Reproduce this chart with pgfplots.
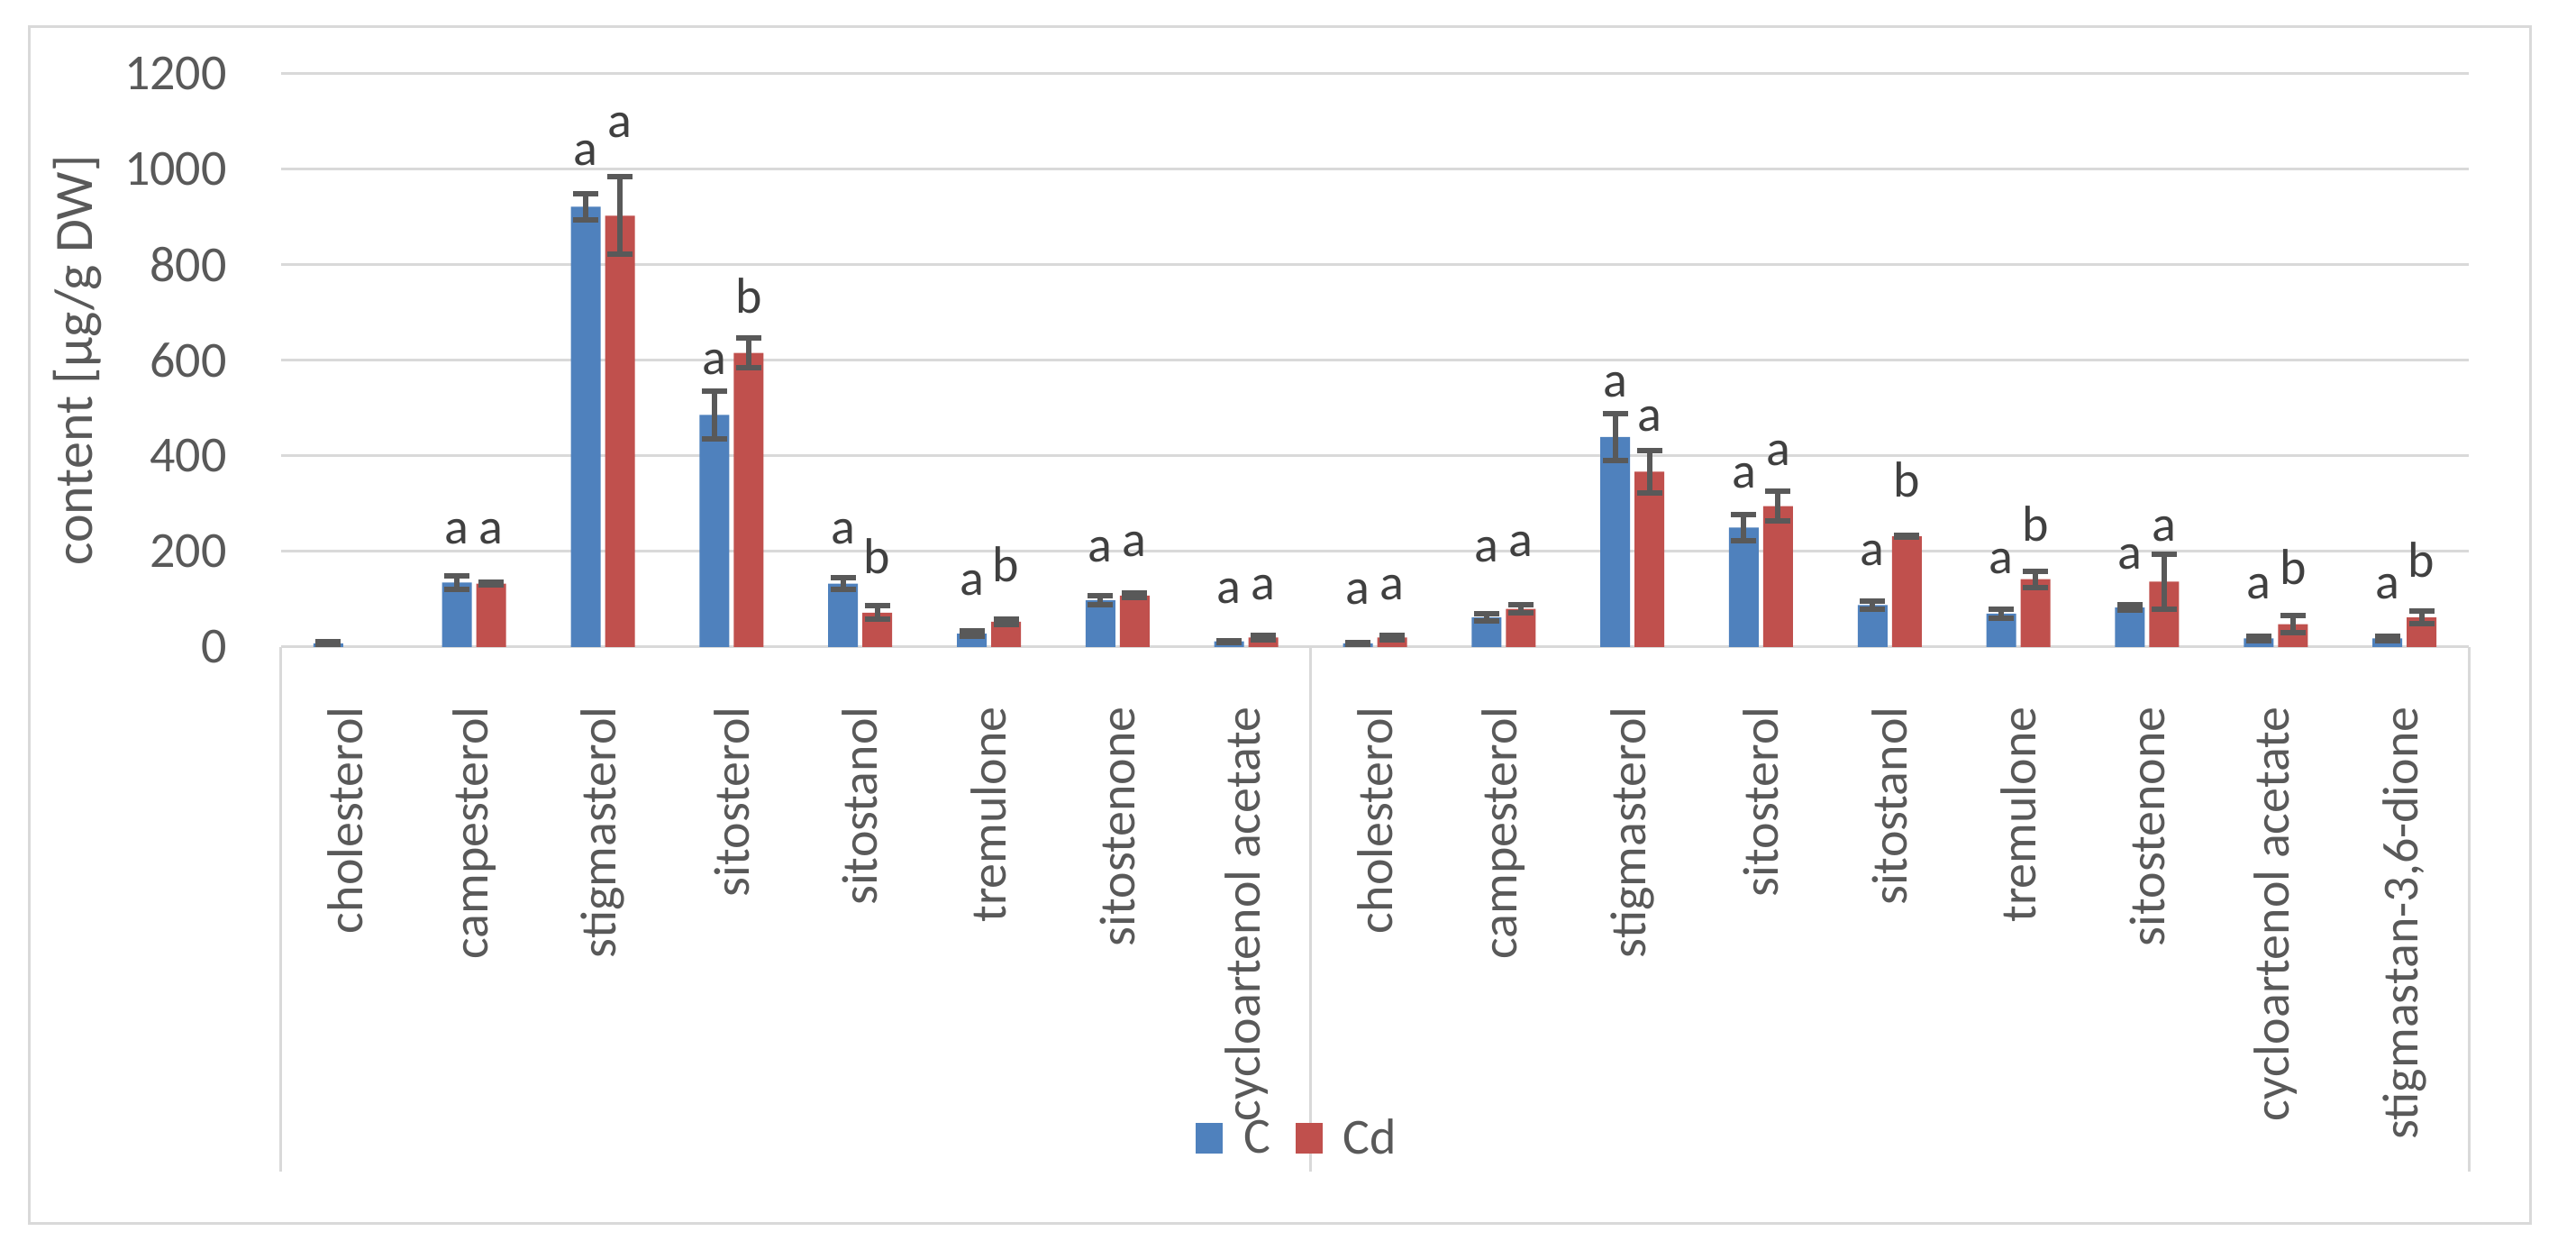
\documentclass[border=0pt]{standalone}
\usepackage{pgfplots}
\usepackage{pgfplotstable}
\pgfplotsset{compat=1.18}
\usepackage{fontspec}
\setmainfont{Carlito}
\definecolor{cblue}{HTML}{4F81BD}
\definecolor{cred}{HTML}{C0504D}
\definecolor{tgray}{HTML}{595959}
\definecolor{lgray}{HTML}{D9D9D9}
\definecolor{egray}{HTML}{595959}
\definecolor{lett}{HTML}{404040}

\pgfplotstableread{
x C Ce Cd Cde
0 8 3 nan nan
1 135 14 133 3
2 922 27 903 81
3 486 50 616 32
4 133 13 72 14
5 28 6 53 5
6 98 10 108 5
7 12 2 20 5
8 8 2 20 5
9 62 8 80 8
10 440 49 367 45
11 250 27 295 31
12 88 9 232 2
13 70 10 142 17
14 83 5 137 58
15 18 5 48 18
16 18 5 62 13
}\data

\pgfplotstableread{
x y lab
1 216 a
2 1009 a
3 570 a
4 216 a
5 108 a
6 179 a
7 92 a
8 90 a
9 179 a
10 524 a
11 333 a
12 170 a
13 154 a
14 164 a
15 101 a
16 101 a
}\labC

\pgfplotstableread{
x y lab
1 216 a
2 1067 a
3 699 b
4 154 b
5 136 b
6 190 a
7 99 a
8 99 a
9 190 a
10 451 a
11 380 a
12 314 b
13 221 b
14 221 a
15 131 b
16 147 b
}\labCd

\begin{document}
\begin{tikzpicture}
\useasboundingbox (0,0) rectangle (1429.5pt,698.5pt);
\draw[lgray, line width=1.5pt] (16pt,19.5pt) rectangle (1404pt,683.5pt);
\begin{axis}[
  at={(156pt,339.5pt)}, anchor=south west,
  scale only axis, width=1214pt, height=318pt,
  xmin=-0.5, xmax=16.5, ymin=0, ymax=1200,
  ytick={0,200,...,1200},
  xtick={0,...,16},
  xticklabels={cholesterol,campesterol,stigmasterol,sitosterol,sitostanol,tremulone,sitostenone,cycloartenol acetate,cholesterol,campesterol,stigmasterol,sitosterol,sitostanol,tremulone,sitostenone,cycloartenol acetate,{stigmastan-3,6-dione}},
  ymajorgrids, grid style={lgray, line width=1.5pt},
  axis line style={draw=none},
  major tick length=0pt,
  tick style={draw=none},
  font=\fontsize{28}{34}\selectfont,
  ticklabel style={text=tgray, font=\fontsize{28}{34}\selectfont},
  xticklabel style={rotate=90, anchor=east, inner sep=0pt},
  xticklabel shift=33pt,
  yticklabel style={inner sep=0pt},
  yticklabel shift=30pt,
  /pgf/number format/assume math mode=true,
  /pgf/number format/1000 sep={},
  ylabel={content [µg/g DW]},
  ylabel style={at={(axis description cs:-0.0931,0.5)}, anchor=center, text=tgray, font=\fontsize{30}{36}\selectfont},
  clip=false,
  legend columns=2,
  legend style={at={(axis description cs:0.464,-0.857)}, anchor=center, draw=none, fill=none,
    font=\fontsize{28}{34}\selectfont, text=tgray,
    nodes={inner sep=0pt},
    /tikz/every odd column/.append style={column sep=11.5pt},
    /tikz/every even column/.append style={column sep=14pt}},
]
\addplot[ybar, bar width=16.5pt, bar shift=-9.5pt, fill=cblue, draw=none,
  legend image code/.code={\fill[cblue] (0pt,-8.5pt) rectangle (15pt,8.5pt);}]
  table[x=x, y=C] \data;
\addlegendentry{C}
\addplot[ybar, bar width=16.5pt, bar shift=9.5pt, fill=cred, draw=none,
  legend image code/.code={\fill[cred] (0pt,-8.5pt) rectangle (15pt,8.5pt);}]
  table[x=x, y=Cd] \data;
\addlegendentry{Cd}
% error bars, placed at the bar centres (bar shift 9.5pt = 0.13303 x units)
\addplot[draw=none, mark=none, forget plot,
  error bars/.cd, y dir=both, y explicit,
  error bar style={draw=egray, line width=3pt},
  error mark options={rotate=90, mark size=7pt, line width=3pt, draw=egray}]
  table[x expr=\thisrow{x}-0.13303, y=C, y error=Ce] \data;
\addplot[draw=none, mark=none, forget plot,
  error bars/.cd, y dir=both, y explicit,
  error bar style={draw=egray, line width=3pt},
  error mark options={rotate=90, mark size=7pt, line width=3pt, draw=egray}]
  table[x expr=\thisrow{x}+0.13303, y=Cd, y error=Cde] \data;
\addplot[draw=none, mark=none, forget plot, nodes near coords, point meta=explicit symbolic,
  every node near coord/.append style={anchor=base, inner sep=0pt, xshift=-9.5pt, text=lett, font=\fontsize{28}{34}\selectfont}]
  table[x=x, y=y, meta=lab] \labC;
\addplot[draw=none, mark=none, forget plot, nodes near coords, point meta=explicit symbolic,
  every node near coord/.append style={anchor=base, inner sep=0pt, xshift=9.5pt, text=lett, font=\fontsize{28}{34}\selectfont}]
  table[x=x, y=y, meta=lab] \labCd;
\draw[lgray, line width=1.5pt] (axis cs:-0.5,0) -- (axis cs:-0.5,-1098);
\draw[lgray, line width=1.5pt] (axis cs:7.5,0) -- (axis cs:7.5,-1098);
\draw[lgray, line width=1.5pt] (axis cs:16.5,0) -- (axis cs:16.5,-1098);
\end{axis}
\end{tikzpicture}
\end{document}
